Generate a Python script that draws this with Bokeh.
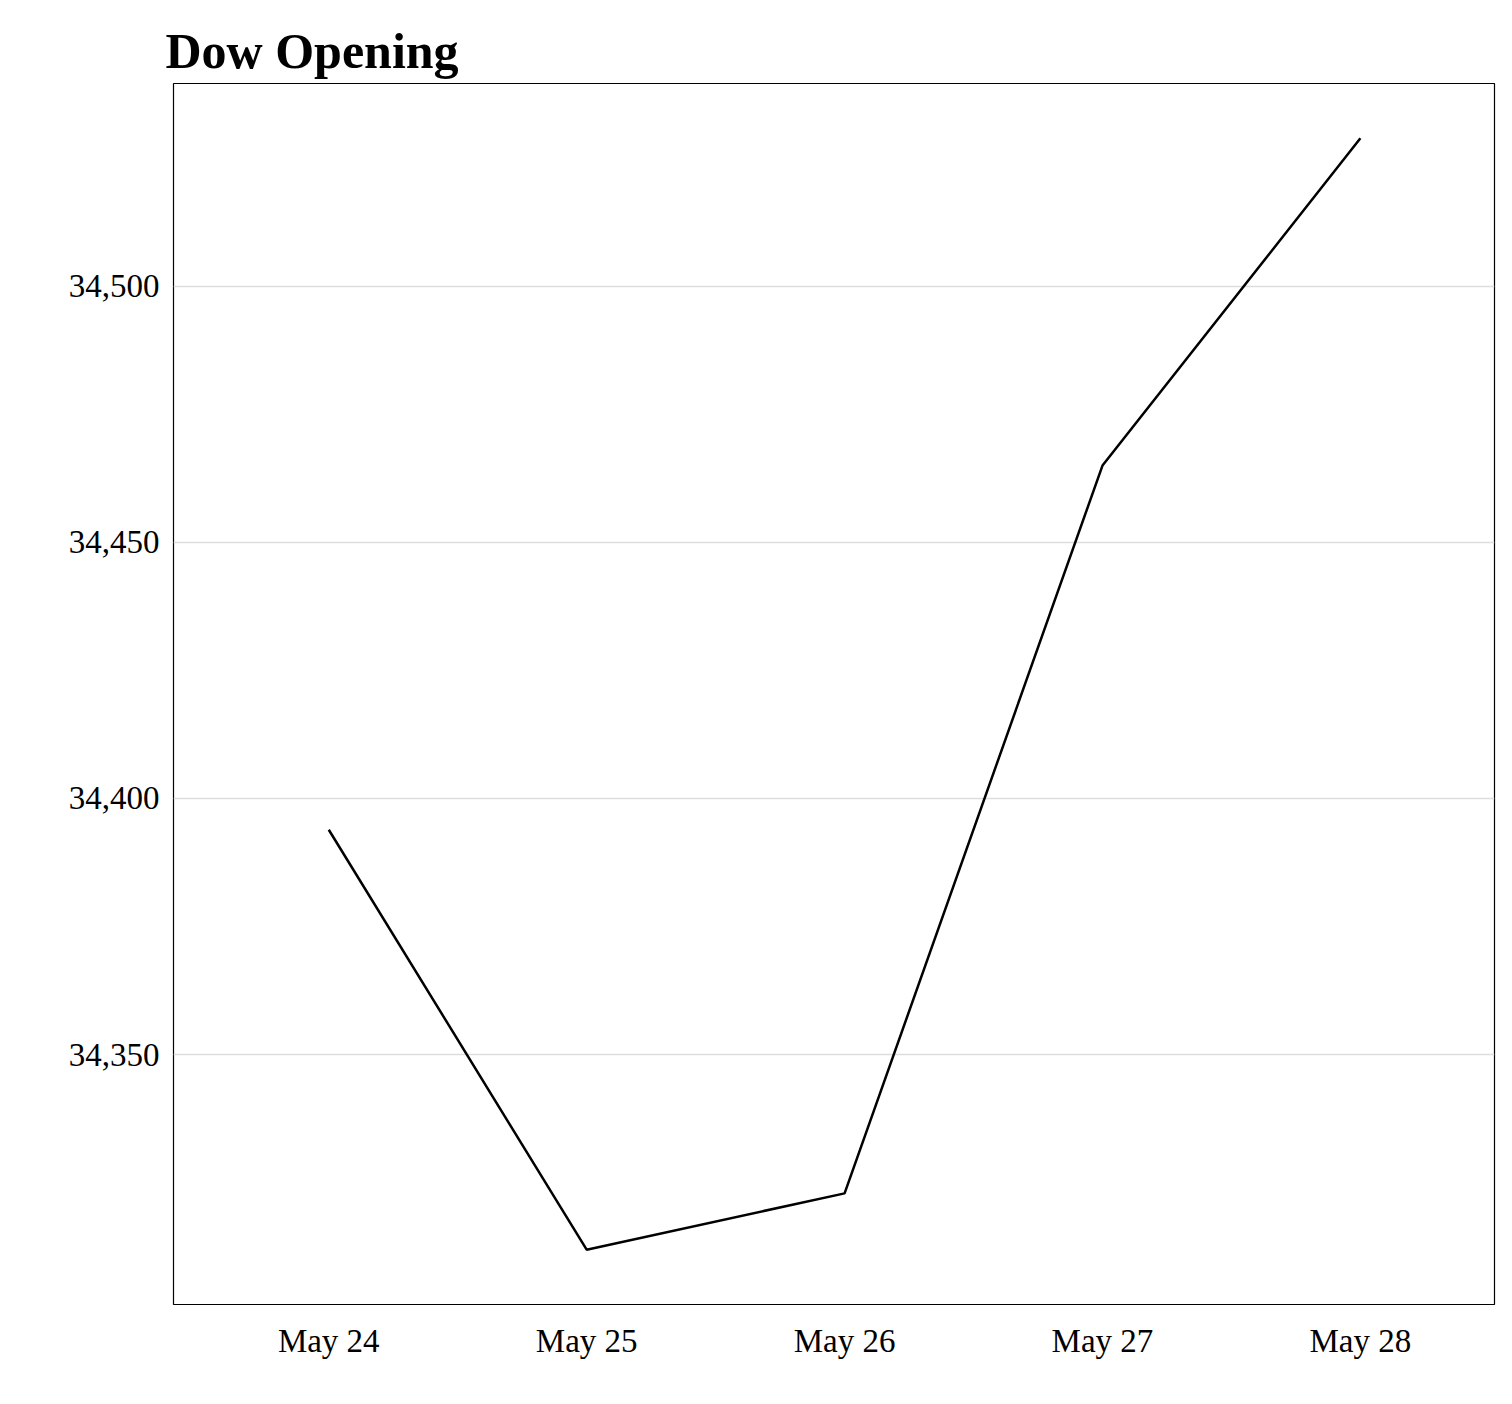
from bokeh.plotting import figure
from bokeh.models import Range1d, FixedTicker, NumeralTickFormatter
from bokeh.embed import file_html
from bokeh.resources import INLINE

days = [0, 1, 2, 3, 4]
day_labels = ["May 24", "May 25", "May 26", "May 27", "May 28"]
opening = [34393.9, 34311.9, 34322.9, 34465.0, 34528.9]
y_ticks = [34350, 34400, 34450, 34500]

FONT = "Liberation Serif"

p = figure(width=1496, height=1390, output_backend="svg", toolbar_location=None,
           x_range=Range1d(-0.602, 4.52), y_range=Range1d(34301.2, 34539.6),
           min_border_left=173, min_border_right=2, min_border_top=83, min_border_bottom=86)

p.title.text = "Dow Opening"
p.title.text_font = FONT
p.title.text_font_size = "50px"
p.title.text_font_style = "bold"
p.title.text_color = "black"
p.title.offset = -8

p.line(days, opening, line_color="black", line_width=2.5)

p.outline_line_color = "black"
p.outline_line_width = 1.2

p.xaxis.ticker = FixedTicker(ticks=days)
p.xaxis.major_label_overrides = {d: l for d, l in zip(days, day_labels)}
p.yaxis.ticker = FixedTicker(ticks=y_ticks)
p.yaxis.formatter = NumeralTickFormatter(format="0,0")

for ax in (p.xaxis, p.yaxis):
    ax.axis_line_color = None
    ax.major_tick_line_color = None
    ax.minor_tick_line_color = None
    ax.major_label_text_font = FONT
    ax.major_label_text_font_size = "33px"
    ax.major_label_text_color = "black"
p.xaxis.major_label_standoff = 12
p.yaxis.major_label_standoff = 8

p.xgrid.grid_line_color = None
p.ygrid.grid_line_color = "#dddddd"
p.ygrid.grid_line_width = 1.5

open("out.html", "w").write(file_html(p, INLINE))
